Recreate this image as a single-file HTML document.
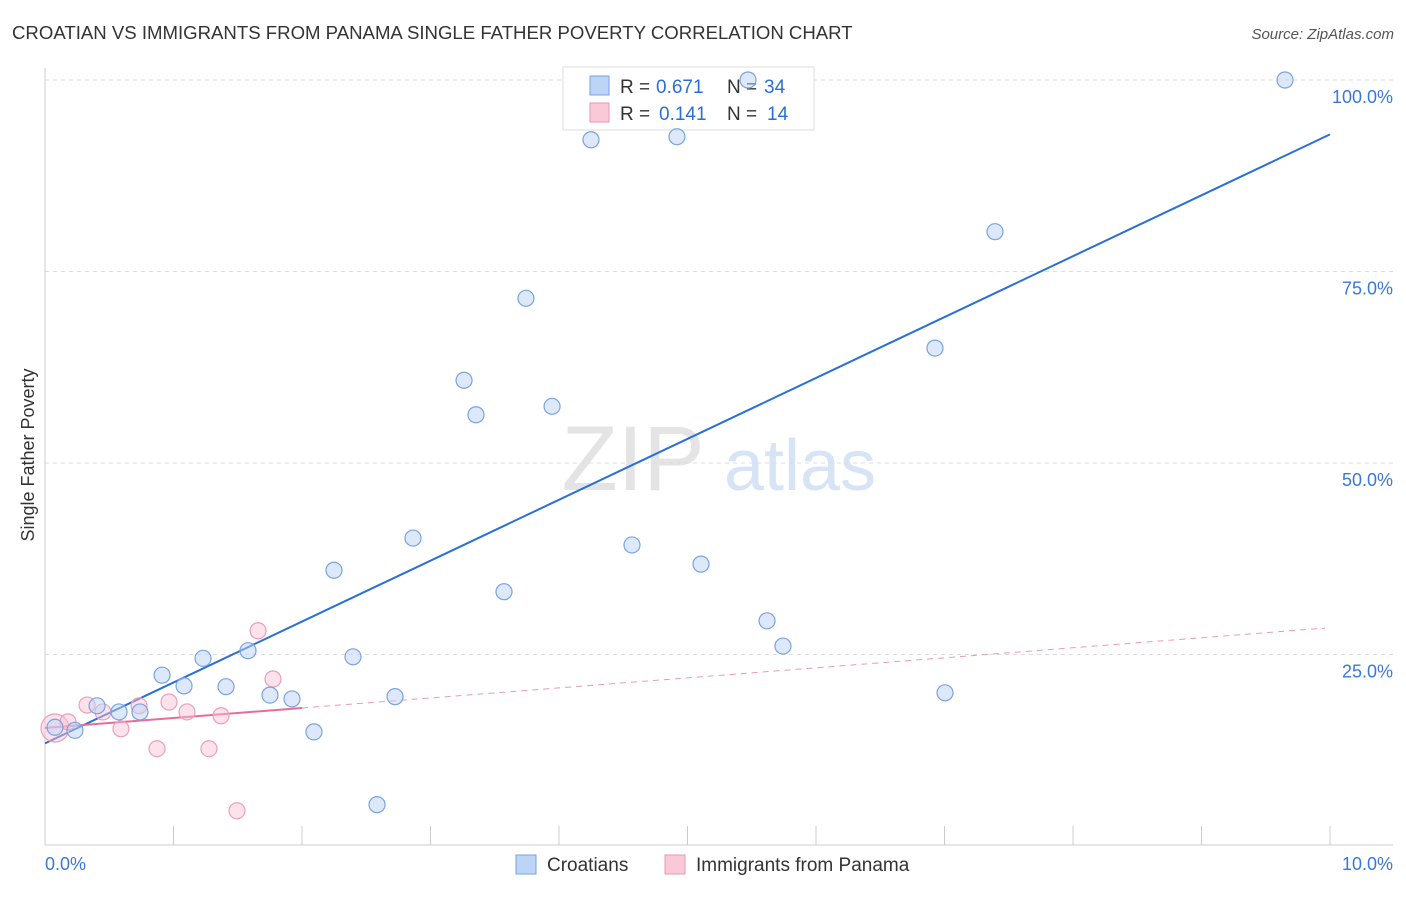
<!DOCTYPE html>
<html><head><meta charset="utf-8">
<style>
body{margin:0;background:#fff;font-family:"Liberation Sans",sans-serif;}
svg text{font-family:"Liberation Sans",sans-serif;}
</style></head>
<body>
<svg width="1406" height="892" viewBox="0 0 1406 892" xmlns="http://www.w3.org/2000/svg">
<text x="12" y="39" font-size="18.6" fill="#333">CROATIAN VS IMMIGRANTS FROM PANAMA SINGLE FATHER POVERTY CORRELATION CHART</text>
<text x="1394" y="39" font-size="15" fill="#555" font-style="italic" text-anchor="end">Source: ZipAtlas.com</text>
<g>
<text x="633" y="490" font-size="92" fill="#e4e4e4" font-family="Liberation Serif" text-anchor="middle">ZIP</text>
<text x="800" y="490" font-size="72" fill="#d6e4f5" text-anchor="middle">atlas</text>
</g>
<g id="grid"></g>
<g id="axes"></g>
<text transform="translate(34,455) rotate(-90)" font-size="18" fill="#333" text-anchor="middle">Single Father Poverty</text>
<g>
<rect x="563" y="67" width="251" height="63" fill="#fff" stroke="#ddd"/>
<rect x="590" y="76" width="19" height="19" fill="#bcd4f5" stroke="#7aa3e0"/>
<text x="620" y="93" font-size="19" fill="#333">R =</text>
<text x="656" y="93" font-size="19" fill="#2a6fd6">0.671</text>
<text x="727" y="93" font-size="19" fill="#333">N =</text>
<text x="764" y="93" font-size="19" fill="#2a6fd6">34</text>
<rect x="590" y="103" width="19" height="19" fill="#f9c9d8" stroke="#e898b2"/>
<text x="620" y="120" font-size="19" fill="#333">R =</text>
<text x="659" y="120" font-size="19" fill="#2a6fd6">0.141</text>
<text x="727" y="120" font-size="19" fill="#333">N =</text>
<text x="767" y="120" font-size="19" fill="#2a6fd6">14</text>
</g>
<g id="lines"></g>
<g id="points"></g>
<g>
<rect x="516" y="855" width="20" height="19" fill="#bcd4f5" stroke="#7aa3e0"/>
<text x="547" y="871" font-size="19" fill="#333">Croatians</text>
<rect x="665" y="855" width="20" height="19" fill="#f9c9d8" stroke="#e898b2"/>
<text x="696" y="871" font-size="19" fill="#333">Immigrants from Panama</text>
</g>
</svg>
<script>
const blueX=[0.078,0.233,0.405,0.576,0.739,0.911,1.082,1.230,1.409,1.580,1.751,1.922,2.093,2.249,2.397,2.584,2.724,2.864,3.261,3.354,3.572,3.743,3.946,4.249,4.568,4.918,5.105,5.471,5.619,5.743,6.926,7.004,7.393,9.650];
const blueY=[15.5,15.1,18.3,17.5,17.5,22.3,20.9,24.5,20.8,25.5,19.7,19.2,14.9,36.0,24.7,5.4,19.5,40.2,60.8,56.3,33.2,71.5,57.4,92.2,39.3,92.6,36.8,100,29.4,26.1,65.0,20.0,80.2,100];
const pinkX=[0.078,0.179,0.327,0.451,0.591,0.732,0.872,0.965,1.105,1.276,1.370,1.494,1.658,1.774];
const pinkY=[15.4,16.2,18.4,17.5,15.3,18.3,12.7,18.8,17.5,12.7,17.0,4.6,28.1,21.8];
const blueTrend=[13.4,92.9];
const pinkTrend=[15.4,28.5];
const yTicks=[25,50,75,100];
const yTickLabels=["25.0%","50.0%","75.0%","100.0%"];
const xTicks=[0,1,2,3,4,5,6,7,8,9,10];
const xTickLabels=["0.0%","10.0%"];
const NS="http://www.w3.org/2000/svg";
const sx=v=>45+v*128.5;
const sy=v=>846-v*7.66;
function mk(tag,attrs,parent){const e=document.createElementNS(NS,tag);for(const k in attrs)e.setAttribute(k,attrs[k]);document.getElementById(parent).appendChild(e);return e;}
yTicks.forEach((t,i)=>{
 const g=mk('line',{x1:45,x2:1393,y1:sy(t),y2:sy(t),stroke:'#ddd','stroke-dasharray':'4,4'},'grid');
 
 
 const l=mk('text',{x:1393,y:sy(t)+23,'font-size':18,fill:'#3a78d8','text-anchor':'end'},'grid');
 l.textContent=yTickLabels[i];
 
 
});
const ax=mk('line',{x1:45,x2:45,y1:68,y2:845,stroke:'#ccc'},'axes');


const bx=mk('line',{x1:45,x2:1393,y1:845,y2:845,stroke:'#ccc'},'axes');


xTicks.forEach(t=>{
 const e=mk('line',{x1:sx(t),x2:sx(t),y1:826,y2:845,stroke:'#ccc'},'axes');
 
 
});
const xl0=mk('text',{x:45,y:870,'font-size':18,fill:'#3a78d8'},'axes');
xl0.textContent=xTickLabels[0];


const xl1=mk('text',{x:1393,y:870,'font-size':18,fill:'#3a78d8','text-anchor':'end'},'axes');
xl1.textContent=xTickLabels[1];


const bl=mk('line',{x1:sx(0),y1:sy(blueTrend[0]),x2:sx(10),y2:sy(blueTrend[1]),stroke:'#2a6fd6','stroke-width':2},'lines');


const pAt=x=>pinkTrend[0]+(pinkTrend[1]-pinkTrend[0])*x/10;
const ps=mk('line',{x1:sx(0),y1:sy(pAt(0)),x2:sx(2),y2:sy(pAt(2)),stroke:'#e86c98','stroke-width':2},'lines');


const pd=mk('line',{x1:sx(2),y1:sy(pAt(2)),x2:sx(9.96),y2:sy(pAt(9.96)),stroke:'#e89ab5','stroke-width':1,'stroke-dasharray':'6,5'},'lines');


pinkX.forEach((x,i)=>{
 const c=mk('circle',{cx:sx(x),cy:sy(pinkY[i]),r:i===0?14:8,fill:'rgba(248,190,208,0.45)',stroke:'#eaa0ba','stroke-width':1.2},'points');
 
 
});
blueX.forEach((x,i)=>{
 const c=mk('circle',{cx:sx(x),cy:sy(blueY[i]),r:8,fill:'rgba(188,212,245,0.5)',stroke:'#7aa3e0','stroke-width':1.2},'points');
 
 
});
</script>
</body></html>
